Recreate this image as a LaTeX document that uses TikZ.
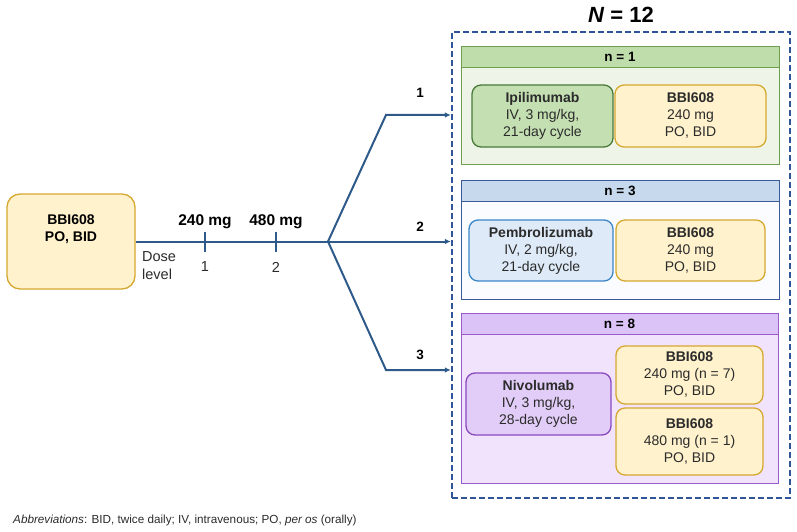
\documentclass[tikz,border=0pt]{standalone}
\usepackage{fontspec}
\setmainfont{Liberation Sans}
\usetikzlibrary{arrows.meta}
\definecolor{lineblue}{HTML}{2E5A8A}
\definecolor{dashblue}{HTML}{2F5597}
\definecolor{yfill}{HTML}{FFF2CC}
\definecolor{ydraw}{HTML}{D6A830}
\definecolor{g1head}{HTML}{BFDDAA}
\definecolor{g1body}{HTML}{EEF5E8}
\definecolor{g1draw}{HTML}{6E9E50}
\definecolor{ipifill}{HTML}{C4DFB2}
\definecolor{ipidraw}{HTML}{4A7A3A}
\definecolor{g2head}{HTML}{C7D9EC}
\definecolor{g2body}{HTML}{FBFCFF}
\definecolor{g2draw}{HTML}{3A5A9A}
\definecolor{pemfill}{HTML}{DEEAF7}
\definecolor{pemdraw}{HTML}{3A86C8}
\definecolor{g3head}{HTML}{DCC3F7}
\definecolor{g3body}{HTML}{F1E3FC}
\definecolor{g3draw}{HTML}{9A5CCC}
\definecolor{nivfill}{HTML}{E2CDF8}
\definecolor{nivdraw}{HTML}{8A48C0}
\definecolor{txt}{HTML}{2B2B2B}
\newcommand{\fsz}{\fontsize{14}{17}\selectfont}
\begin{document}
\begin{tikzpicture}[x=1pt,y=-1pt,
  rbox/.style={draw, rounded corners=9pt, line width=1.3pt, align=center, font=\fsz, text=txt, inner sep=0pt},
  ybox/.style={rbox, fill=yfill, draw=ydraw},
  grp/.style={draw, line width=0.9pt, minimum width=318pt, inner sep=0pt},
  ghead/.style={draw, line width=0.9pt, minimum width=318pt, minimum height=21pt, inner sep=0pt, font=\fontsize{13.5}{16}\selectfont\bfseries},
  conn/.style={draw=lineblue, line width=2pt},
  arr/.style={conn, -{Latex[length=6pt,width=5.5pt]}},
  blab/.style={font=\fontsize{13.5}{16}\selectfont\bfseries, inner sep=0pt},
  plain/.style={font=\fontsize{14.5}{18}\selectfont, text=txt, inner sep=0pt}
]
\useasboundingbox (0,0) rectangle (797,532);

% title
\node[font=\fontsize{22}{26}\selectfont\bfseries, inner sep=0pt] (title) at (621,15) {\textit{N} = 12};

% outer dashed box
\node[draw=dashblue, line width=2.2pt, dash pattern=on 6pt off 3pt, minimum width=338pt, minimum height=466pt, inner sep=0pt] (outer) at (621,265) {};

% group 1
\node[grp, draw=g1draw, fill=g1body, minimum height=117pt] (g1) at (620,105.5) {};
\node[ghead, draw=g1draw, fill=g1head] (h1) at (620,57) {n = 1};
\node[rbox, fill=ipifill, draw=ipidraw, minimum width=141pt, minimum height=62pt] (ipi) at (542.5,116) {\textbf{Ipilimumab}\\IV, 3 mg/kg,\\21-day cycle};
\node[ybox, minimum width=151pt, minimum height=62pt] (b1) at (690.5,116) {\textbf{BBI608}\\240 mg\\PO, BID};

% group 2
\node[grp, draw=g2draw, fill=g2body, minimum height=119pt] (g2) at (620,239.5) {};
\node[ghead, draw=g2draw, fill=g2head] (h2) at (620,190.5) {n = 3};
\node[rbox, fill=pemfill, draw=pemdraw, minimum width=144pt, minimum height=61pt] (pem) at (541,250.5) {\textbf{Pembrolizumab}\\IV, 2 mg/kg,\\21-day cycle};
\node[ybox, minimum width=149pt, minimum height=61pt] (b2) at (690.5,250.5) {\textbf{BBI608}\\240 mg\\PO, BID};

% group 3
\node[grp, draw=g3draw, fill=g3body, minimum width=317pt, minimum height=170pt] (g3) at (619.5,398) {};
\node[ghead, draw=g3draw, fill=g3head, minimum width=317pt] (h3) at (619.5,323.5) {n = 8};
\node[rbox, fill=nivfill, draw=nivdraw, minimum width=145pt, minimum height=62pt] (niv) at (538.5,404) {\textbf{Nivolumab}\\IV, 3 mg/kg,\\28-day cycle};
\node[ybox, minimum width=147pt, minimum height=58pt] (b3) at (689.5,375) {\textbf{BBI608}\\240 mg (n = 7)\\PO, BID};
\node[ybox, minimum width=147pt, minimum height=67pt] (b4) at (689.5,441.5) {\textbf{BBI608}\\480 mg (n = 1)\\PO, BID};

% left box
\node[ybox, rounded corners=13pt, minimum width=128pt, minimum height=95pt] (bbi) at (71,241.5) {};
\node[font=\fsz\bfseries, align=center, inner sep=0pt] (bbitext) at (71,229) {BBI608\\PO, BID};

% dose line
\coordinate (split) at (328,241.5);
\coordinate (t1) at (205,241.5);
\coordinate (t2) at (276,241.5);
\path[conn] (bbi.east) -- (split);
\path[conn] ([yshift=10pt]t1) -- ([yshift=-10pt]t1);
\path[conn] ([yshift=10pt]t2) -- ([yshift=-10pt]t2);
\node[font=\fontsize{15.5}{18}\selectfont\bfseries, inner sep=0pt] (d1) at (205,222) {240 mg};
\node[font=\fontsize{15.5}{18}\selectfont\bfseries, inner sep=0pt] (d2) at (276,222) {480 mg};
\node[plain] (n1) at (205,267) {1};
\node[plain] (n2) at (276,267) {2};
\node[plain, align=left, anchor=west] (dl) at (142,265.5) {Dose\\level};

% branches
\coordinate (c1) at (386,115);
\coordinate (c3) at (386,370);
\path[arr] (split) -- (c1) -- (outer.west |- c1);
\path[arr] (split) -- (outer.west |- split);
\path[arr] (split) -- (c3) -- (outer.west |- c3);
\node[blab] (l1) at (420,93) {1};
\node[blab] (l2) at (420,227) {2};
\node[blab] (l3) at (420,355) {3};

% abbreviations
\node[font=\fontsize{11.7}{14}\selectfont, text=txt, anchor=west, inner sep=0pt] (abbr) at (13,520) {\textit{Abbreviations}: BID, twice daily; IV, intravenous; PO, \textit{per os} (orally)};
\end{tikzpicture}
\end{document}
